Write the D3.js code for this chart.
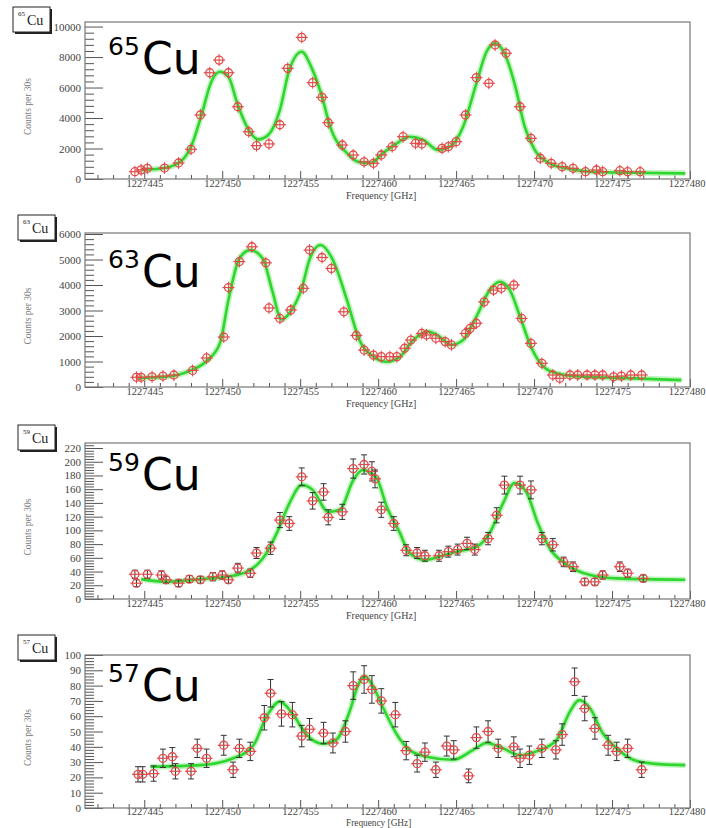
<!DOCTYPE html>
<html><head><meta charset="utf-8">
<script src="https://cdn.jsdelivr.net/npm/d3@7"></script>
<style>body{margin:0;background:#fff;} svg{display:block;}</style>
</head><body>
<svg id="c" width="706" height="828"></svg>
<script>
// ---------------- DATA ----------------
const isotopes = ["65", "63", "59", "57"];
const xTickValues = [1227445, 1227450, 1227455, 1227460, 1227465, 1227470, 1227475, 1227480];
const xTickLabels = ["1227445", "1227450", "1227455", "1227460", "1227465", "1227470", "1227475", "1227480"];
const xLabel = "Frequency [GHz]";
const yLabel = "Counts per 30s";

const yTicks65 = [0, 2000, 4000, 6000, 8000, 10000];
const yTicks63 = [0, 1000, 2000, 3000, 4000, 5000, 6000];
const yTicks59 = [0, 20, 40, 60, 80, 100, 120, 140, 160, 180, 200, 220];
const yTicks57 = [0, 10, 20, 30, 40, 50, 60, 70, 80, 90, 100];

// 65Cu
const freq65 = [1227444.4, 1227444.8, 1227445.2, 1227446.3, 1227447.2, 1227448.0, 1227448.6, 1227449.2, 1227449.8, 1227450.4,
  1227451.0, 1227451.7, 1227452.2, 1227453.0, 1227453.7, 1227454.2, 1227455.1, 1227455.8, 1227456.4, 1227456.8,
  1227457.7, 1227458.4, 1227459.1, 1227459.7, 1227460.2, 1227460.9, 1227461.6, 1227462.4, 1227462.8, 1227464.1,
  1227464.5, 1227465.0, 1227465.6, 1227466.3, 1227467.1, 1227467.5, 1227468.2, 1227469.1, 1227469.8, 1227470.4,
  1227471.1, 1227471.8, 1227472.5, 1227473.3, 1227474.0, 1227474.4, 1227475.5, 1227476.0, 1227476.8];
const counts65 = [480, 600, 700, 720, 1050, 1950, 4200, 6970, 7800, 6970,
  4740, 3100, 2190, 2300, 3560, 7260, 9290, 6320, 5360, 3690,
  2230, 1575, 1130, 1030, 1575, 2120, 2775, 2340, 2300, 2010,
  2120, 2450, 4200, 6650, 6280, 8790, 8250, 4740, 2670, 1360,
  1030, 810, 700, 480, 590, 480, 545, 480, 480];
const fitFreq65 = [1227444.8, 1227446.2, 1227447.3, 1227448.0, 1227448.7, 1227449.3, 1227449.85, 1227450.4, 1227451.0, 1227451.7,
  1227452.3, 1227452.95, 1227453.7, 1227454.3, 1227455.1, 1227455.7, 1227456.4, 1227456.9, 1227458.0, 1227458.7,
  1227459.5, 1227460.3, 1227461.2, 1227462.0, 1227462.9, 1227463.85, 1227464.6, 1227465.45, 1227466.3, 1227466.95,
  1227467.5, 1227468.1, 1227468.8, 1227469.4, 1227470.05, 1227471.0, 1227472.1, 1227473.6, 1227476.35, 1227479.7];
const fitCounts65 = [590, 700, 1130, 2120, 4310, 6380, 7040, 6710, 4850, 3210,
  2600, 2890, 4530, 7150, 8350, 7370, 5400, 3500, 1690, 1130,
  1030, 1690, 2340, 2775, 2560, 1900, 2120, 3430, 6280, 8350,
  8900, 8250, 6060, 3430, 1900, 1030, 700, 480, 410, 370];

// 63Cu
const freq63 = [1227444.5, 1227444.8, 1227445.5, 1227446.2, 1227446.9, 1227448.1, 1227449.0, 1227450.1, 1227450.4, 1227451.1,
  1227451.9, 1227452.8, 1227453.0, 1227453.7, 1227454.4, 1227455.2, 1227455.6, 1227456.4, 1227457.0, 1227457.8,
  1227458.6, 1227459.1, 1227459.7, 1227460.2, 1227460.75, 1227461.2, 1227461.7, 1227462.1, 1227462.8, 1227463.1,
  1227463.7, 1227464.3, 1227464.7, 1227465.6, 1227465.9, 1227466.3, 1227466.8, 1227467.4, 1227467.9, 1227468.7,
  1227469.2, 1227469.8, 1227470.5, 1227471.2, 1227471.65, 1227472.3, 1227472.8, 1227473.4, 1227473.9, 1227474.4,
  1227475.1, 1227475.6, 1227476.2, 1227476.9];
const counts63 = [380, 380, 400, 430, 470, 650, 1140, 1960, 3900, 4920,
  5500, 4870, 3100, 2690, 3020, 3870, 5370, 5080, 4650, 2950,
  2020, 1450, 1250, 1190, 1190, 1190, 1520, 1840, 2100, 2040,
  1910, 1780, 1650, 2100, 2300, 2500, 3340, 3800, 3870, 4000,
  2690, 1710, 930, 470, 340, 470, 470, 470, 470, 470,
  400, 430, 470, 470];
const fitFreq63 = [1227444.6, 1227446.2, 1227447.9, 1227449.0, 1227449.85, 1227450.4, 1227451.1, 1227451.8, 1227452.6, 1227453.2,
  1227453.8, 1227454.45, 1227455.1, 1227455.6, 1227456.3, 1227457.1, 1227458.0, 1227458.8, 1227459.7, 1227460.55,
  1227461.4, 1227462.25, 1227463.2, 1227463.95, 1227464.7, 1227465.45, 1227466.3, 1227467.15, 1227467.8, 1227468.45,
  1227469.1, 1227469.8, 1227470.6, 1227471.45, 1227473.15, 1227476.35, 1227479.45];
const fitCounts63 = [350, 390, 630, 1020, 1710, 3410, 5040, 5370, 5040, 3800,
  2650, 3020, 3870, 5000, 5570, 4980, 3410, 1840, 1190, 990,
  1190, 1840, 2170, 1970, 1650, 1840, 2760, 3800, 4130, 3800,
  2760, 1580, 800, 540, 400, 340, 270];

// 59Cu
const freq59 = [1227444.4, 1227444.5, 1227445.2, 1227446.1, 1227446.4, 1227447.2, 1227447.9, 1227448.6, 1227449.4, 1227450.0,
  1227450.4, 1227451.0, 1227451.8, 1227452.2, 1227453.1, 1227453.7, 1227454.3, 1227455.1, 1227455.8, 1227456.5,
  1227456.8, 1227457.7, 1227458.4, 1227459.1, 1227459.6, 1227459.8, 1227460.2, 1227461.0, 1227461.8, 1227462.5,
  1227463.0, 1227463.9, 1227464.5, 1227465.1, 1227465.7, 1227466.2, 1227467.05, 1227467.6, 1227468.1, 1227469.1,
  1227469.8, 1227470.5, 1227471.2, 1227471.9, 1227472.5, 1227473.25, 1227473.9, 1227474.4, 1227475.5, 1227476.0,
  1227477.0];
const counts59 = [36, 23, 36, 35, 28, 23, 29, 28, 32.5, 35,
  28, 45, 37.5, 67, 74, 115, 110, 178, 143, 156,
  119, 127, 190, 196, 186, 175, 130, 110, 71, 67,
  63, 63, 69, 72, 81, 72, 88, 122, 166, 166,
  159, 88, 79, 54, 47, 25, 25, 35, 47, 37.5,
  30];
const err59 = [6, 5, 6, 6, 5, 5, 5, 5, 6, 6,
  5, 7, 6, 8, 9, 11, 10, 13, 12, 12,
  11, 11, 14, 14, 14, 13, 11, 10, 8, 8,
  8, 8, 8, 8, 9, 8, 9, 11, 13, 13,
  13, 9, 9, 7, 7, 5, 5, 6, 7, 6,
  5];
const fitFreq59 = [1227444.8, 1227446.4, 1227448.6, 1227450.3, 1227451.6, 1227452.6, 1227453.5, 1227454.3, 1227455.1, 1227455.8,
  1227456.8, 1227457.55, 1227458.4, 1227459.0, 1227459.9, 1227460.55, 1227461.4, 1227462.0, 1227463.0, 1227463.95,
  1227465.0, 1227466.3, 1227467.15, 1227468.0, 1227468.75, 1227469.5, 1227470.25, 1227471.0, 1227472.1, 1227473.6,
  1227475.3, 1227479.7];
const fitCounts59 = [29, 25, 29, 32.5, 40, 59, 96, 139, 166, 159,
  127, 130, 173, 188, 176, 134.5, 96, 67, 57, 62,
  69, 76, 96, 139, 169, 156, 110, 74, 50, 35,
  30, 28];

// 57Cu
const freq57 = [1227444.6, 1227444.9, 1227445.6, 1227446.2, 1227446.8, 1227447.0, 1227448.0, 1227448.4, 1227449.0, 1227450.1,
  1227450.7, 1227451.1, 1227451.8, 1227452.7, 1227453.1, 1227453.8, 1227454.5, 1227455.1, 1227455.6, 1227456.5,
  1227457.1, 1227457.9, 1227458.4, 1227459.1, 1227459.6, 1227460.2, 1227461.1, 1227461.8, 1227462.5, 1227463.0,
  1227463.7, 1227464.4, 1227464.85, 1227465.8, 1227466.3, 1227467.05, 1227467.7, 1227468.7, 1227469.1, 1227469.7,
  1227470.5, 1227471.4, 1227471.8, 1227472.6, 1227473.25, 1227473.9, 1227474.75, 1227475.3, 1227476.0, 1227476.9];
const counts57 = [22, 22, 22.5, 32.5, 33.5, 24, 24, 39, 32.5, 41,
  25, 39, 37, 59, 75, 61.5, 61, 47, 51.5, 49,
  42.5, 50, 80, 84, 77.5, 70, 61, 37.5, 29, 36.5,
  25, 40.5, 38, 21, 46, 50, 39, 40, 32.5, 34.5,
  39, 38, 48, 82.5, 65, 52, 41, 37, 39, 25];
const err57 = [5, 5, 5, 6, 6, 5, 5, 6, 6, 6.5,
  5, 6, 6, 8, 9, 8, 8, 7, 7, 7,
  6.5, 7, 9, 9, 9, 8, 8, 6, 5.5, 6,
  5, 6.5, 6, 4.5, 7, 7, 6, 6.5, 6, 6,
  6, 6, 7, 9, 8, 7, 6.5, 6, 6, 5];
const fitFreq57 = [1227445.4, 1227448.6, 1227450.7, 1227452.0, 1227452.85, 1227453.7, 1227454.55, 1227455.4, 1227456.5, 1227457.3,
  1227458.2, 1227458.7, 1227459.15, 1227459.7, 1227460.3, 1227461.2, 1227462.0, 1227463.1, 1227464.8, 1227466.1,
  1227466.95, 1227468.0, 1227469.1, 1227470.15, 1227471.45, 1227472.3, 1227472.9, 1227473.6, 1227474.4, 1227475.3,
  1227476.35, 1227477.6, 1227479.7];
const fitCounts57 = [27, 28, 32.5, 41, 60, 69.5, 61, 48, 42, 44.5,
  64, 80, 86, 79, 66, 48, 38, 33.5, 31.5, 38,
  42.5, 39, 34.5, 37, 44.5, 63, 70.5, 65, 49, 39,
  31.5, 29, 28];

// ---------------- LAYOUT ----------------
const svg = d3.select("#c");
const frameL = 85, frameR = 690;
const x = d3.scaleLinear().domain([1227441.2, 1227480]).range([frameL, frameR]);

const panels = [
  {iso: isotopes[0], top: 22, bottom: 179, ymax: 10300, yTicks: yTicks65, minor: 400,
   freq: freq65, counts: counts65, err: null, fitF: fitFreq65, fitC: fitCounts65,
   box: [13, 7], big: 74, pad: 0.8, xlY: 198.5, xlSize: 10},
  {iso: isotopes[1], top: 233, bottom: 387, ymax: 6040, yTicks: yTicks63, minor: 200,
   freq: freq63, counts: counts63, err: null, fitF: fitFreq63, fitC: fitCounts63,
   box: [18, 215], big: 287, pad: 0.8, xlY: 406.5, xlSize: 10},
  {iso: isotopes[2], top: 443, bottom: 599, ymax: 227.3, yTicks: yTicks59, minor: 4,
   freq: freq59, counts: counts59, err: err59, fitF: fitFreq59, fitC: fitCounts59,
   box: [18, 425], big: 490, pad: 0.8, xlY: 618.5, xlSize: 10},
  {iso: isotopes[3], top: 655, bottom: 808, ymax: 100, yTicks: yTicks57, minor: 2,
   freq: freq57, counts: counts57, err: err57, fitF: fitFreq57, fitC: fitCounts57,
   box: [18, 635], big: 701, pad: -0.3, xlY: 826.3, xlSize: 9.3}
];

const serif = "'Liberation Serif', 'Times New Roman', serif";
const red = "#e24a4a";

panels.forEach(p => {
  const g = svg.append("g");
  const y = d3.scaleLinear().domain([0, p.ymax]).range([p.bottom, p.top]);

  g.append("rect").attr("x", frameL).attr("y", p.top)
    .attr("width", frameR - frameL).attr("height", p.bottom - p.top)
    .attr("fill", "#fff");

  // y axis (ticks inside)
  const minorY = d3.range(0, p.ymax + 1e-9, p.minor).filter(v => !p.yTicks.includes(v));
  const yMinor = g.append("g").attr("transform", `translate(${frameL},0)`)
    .call(d3.axisLeft(y).tickValues(minorY).tickSize(-9).tickFormat(""));
  const yMajor = g.append("g").attr("transform", `translate(${frameL},0)`)
    .call(d3.axisLeft(y).tickValues(p.yTicks).tickSize(-18).tickPadding(4).tickFormat(d3.format("d")));
  [yMinor, yMajor].forEach(a => {
    a.select(".domain").remove();
    a.selectAll("line").attr("stroke", "#555").attr("stroke-width", 1);
  });
  yMajor.selectAll("text").attr("font-family", serif).attr("font-size", 11).attr("fill", "#444");

  // x axis (ticks inside)
  const minorX = d3.range(1227442, 1227481, 1).filter(v => !xTickValues.includes(v));
  const xMinor = g.append("g").attr("transform", `translate(0,${p.bottom})`)
    .call(d3.axisBottom(x).tickValues(minorX).tickSize(-4).tickFormat(""));
  const xMajor = g.append("g").attr("transform", `translate(0,${p.bottom})`)
    .call(d3.axisBottom(x).tickValues(xTickValues).tickSize(-8).tickPadding(p.pad)
      .tickFormat((d, i) => xTickLabels[i]));
  [xMinor, xMajor].forEach(a => {
    a.select(".domain").remove();
    a.selectAll("line").attr("stroke", "#555").attr("stroke-width", 1);
  });
  xMajor.selectAll("text").attr("font-family", serif).attr("font-size", 10.5).attr("fill", "#444");
  xMajor.selectAll(".tick").filter(d => d === xTickValues[xTickValues.length - 1])
    .select("text").attr("text-anchor", "end").attr("x", 15);

  // axis titles
  g.append("text").attr("x", 346).attr("y", p.xlY)
    .attr("font-family", serif).attr("font-size", p.xlSize).attr("fill", "#444").text(xLabel);
  g.append("text")
    .attr("transform", `translate(31,${(p.top + p.bottom) / 2 + 6}) rotate(-90)`)
    .attr("text-anchor", "middle").attr("font-family", serif).attr("font-size", 9.5)
    .attr("fill", "#777").text(yLabel);

  // fit curve
  const fitPts = p.fitF.map((f, i) => [f, p.fitC[i]]);
  const line = d3.line().x(d => x(d[0])).y(d => y(d[1])).curve(d3.curveMonotoneX);
  g.append("path").datum(fitPts).attr("d", line).attr("fill", "none")
    .attr("stroke", "#a8f0a8").attr("stroke-width", 6).attr("stroke-opacity", 0.7);
  g.append("path").datum(fitPts).attr("d", line).attr("fill", "none")
    .attr("stroke", "#2ed62e").attr("stroke-width", 2.6);

  // data points
  const pts = p.freq.map((f, i) => ({f, c: p.counts[i], e: p.err ? p.err[i] : null}));
  const mk = g.append("g").selectAll("g").data(pts).join("g")
    .attr("transform", d => `translate(${x(d.f)},${y(d.c)})`);
  mk.each(function (d) {
    const s = d3.select(this);
    if (d.e !== null) {
      const up = y(d.c + d.e) - y(d.c), dn = y(d.c - d.e) - y(d.c);
      s.append("line").attr("x1", 0).attr("x2", 0).attr("y1", up).attr("y2", dn)
        .attr("stroke", "#333").attr("stroke-width", 1);
      [up, dn].forEach(v => s.append("line").attr("x1", -3).attr("x2", 3).attr("y1", v).attr("y2", v)
        .attr("stroke", "#333").attr("stroke-width", 1));
    } else {
      s.append("line").attr("x1", 0).attr("x2", 0).attr("y1", -6).attr("y2", 6)
        .attr("stroke", red).attr("stroke-width", 1);
    }
    s.append("line").attr("x1", -6).attr("x2", 6).attr("y1", 0).attr("y2", 0)
      .attr("stroke", red).attr("stroke-width", 1.2);
    s.append("circle").attr("r", 4).attr("fill", "none").attr("stroke", red).attr("stroke-width", 1.3);
  });

  // frame border
  g.append("rect").attr("x", frameL).attr("y", p.top)
    .attr("width", frameR - frameL).attr("height", p.bottom - p.top)
    .attr("fill", "none").attr("stroke", "#777").attr("stroke-width", 1.2);

  // small label box
  const [bx, by] = p.box;
  g.append("rect").attr("x", bx + 2).attr("y", by + 2).attr("width", 37).attr("height", 25).attr("fill", "#222");
  g.append("rect").attr("x", bx).attr("y", by).attr("width", 37).attr("height", 25)
    .attr("fill", "#fff").attr("stroke", "#222").attr("stroke-width", 1);
  g.append("text").attr("x", bx + 5).attr("y", by + 9).attr("font-family", serif)
    .attr("font-size", 7).attr("fill", "#222").text(p.iso);
  g.append("text").attr("x", bx + 14).attr("y", by + 18).attr("font-family", serif)
    .attr("font-size", 14).attr("fill", "#222").text("Cu");

  // big overlay label
  g.append("text").attr("x", 108).attr("y", p.big - 19).attr("font-family", "'DejaVu Sans', sans-serif")
    .attr("font-size", 25).attr("fill", "#000").text(p.iso);
  g.append("text").attr("x", 142).attr("y", p.big).attr("font-family", "'DejaVu Sans', sans-serif")
    .attr("font-size", 44).attr("fill", "#000").text("Cu");
});
</script>
</body></html>
